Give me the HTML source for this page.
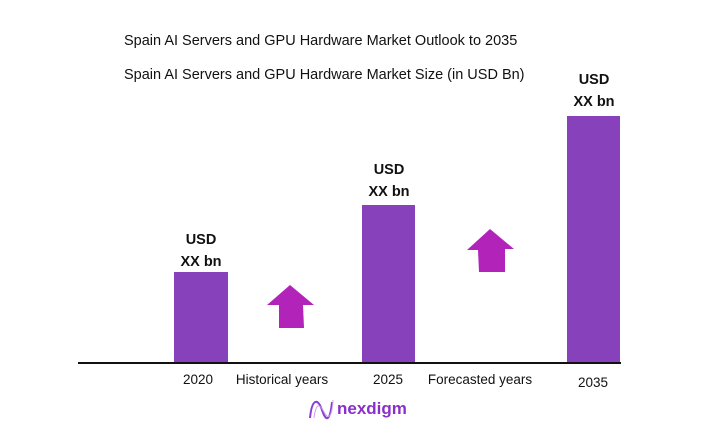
<!DOCTYPE html>
<html><head><meta charset="utf-8"><style>
body{margin:0;width:710px;height:447px;background:#fff;position:relative;overflow:hidden;font-family:"Liberation Sans",sans-serif;color:#111}
.t{position:absolute;font-size:14.5px;white-space:nowrap}
.bar{position:absolute;background:#8741BA}
.lab{position:absolute;font-weight:bold;font-size:14.5px;text-align:center;line-height:22px;width:80px}
.x{position:absolute;font-size:13.5px;white-space:nowrap;transform:translateX(-50%)}
</style></head><body>
<div class="t" style="left:124px;top:33px">Spain AI Servers and GPU Hardware Market Outlook to 2035</div>
<div class="t" style="left:124px;top:67px">Spain AI Servers and GPU Hardware Market Size (in USD Bn)</div>
<div class="bar" style="left:174px;top:272px;width:54px;height:91px"></div>
<div class="bar" style="left:362px;top:205px;width:53px;height:158px"></div>
<div class="bar" style="left:567px;top:116px;width:53px;height:247px"></div>
<div style="position:absolute;left:78px;top:362px;width:543px;height:2px;background:#111"></div>
<div class="lab" style="left:161px;top:229px">USD<br>XX bn</div>
<div class="lab" style="left:349px;top:159px">USD<br>XX bn</div>
<div class="lab" style="left:554px;top:69px">USD<br>XX bn</div>
<svg style="position:absolute;left:0;top:0" width="710" height="447">
<polygon points="267,305 290,285 314,305 303,305 304,328 279,328 279,305" fill="#B223BA"/>
<polygon points="467,250 490,229 514,249 505,249 505,272 479,272 478,250" fill="#B223BA"/>
<path d="M310,418 C312,398 318,398 322,410 C326,422 330,422 332,402" stroke="#8a3fd0" stroke-width="2" fill="none"/>
<path d="M314,418 C316,402 320,404 324,412 C328,420 332,418 333,400" stroke="#c9a0f0" stroke-width="1" fill="none"/>
</svg>
<div class="x" style="left:198px;top:372px">2020</div>
<div class="x" style="left:282px;top:372px">Historical years</div>
<div class="x" style="left:388px;top:372px">2025</div>
<div class="x" style="left:480px;top:372px">Forecasted years</div>
<div class="x" style="left:593px;top:375px">2035</div>
<div style="position:absolute;left:337px;top:399px;font-size:17px;font-weight:bold;color:#8a2fc9">nexdigm</div>
</body></html>
